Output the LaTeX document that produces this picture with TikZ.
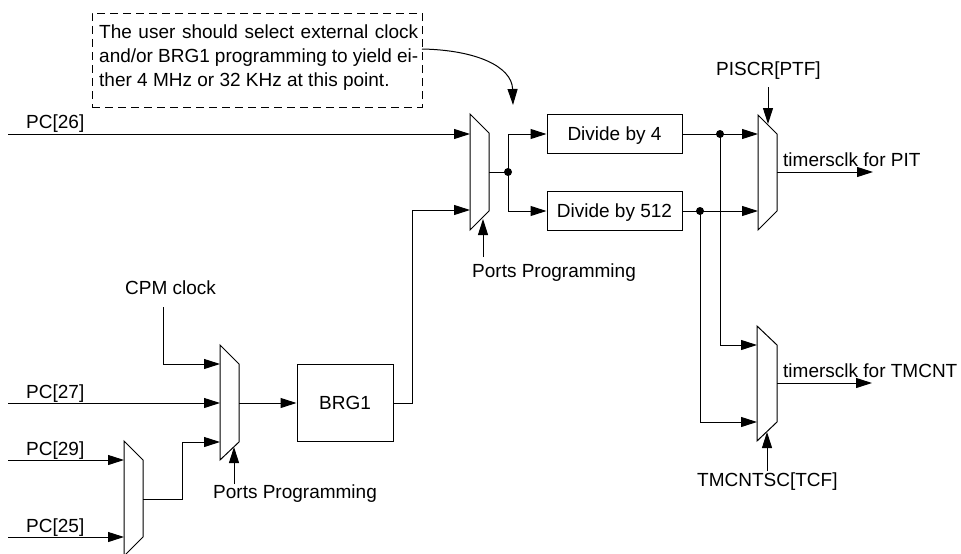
\documentclass[tikz,border=0pt]{standalone}
\usepackage{fontspec}
\setmainfont{Liberation Sans}
\usetikzlibrary{arrows.meta}
\begin{document}
\begin{tikzpicture}[x=1pt,y=-1pt,
  wire/.style={line width=1pt,line join=miter},
  sig/.style={wire,-{Triangle[length=16pt,width=10pt]}},
  muxbody/.style={line width=1pt,fill=white,line join=miter},
  blockbox/.style={draw,line width=1pt,inner sep=0pt,
    font=\fontsize{19}{23}\selectfont,text height=13.6pt,text depth=0pt},
  lbl/.style={anchor=base west,inner sep=0pt,font=\fontsize{19}{23}\selectfont},
  junction/.style={circle,fill=black,inner sep=0pt,minimum size=8pt}]
\useasboundingbox (0,0) rectangle (961,554);

% ---------- annotation ----------
\node[draw,dashed,dash pattern=on 8pt off 5pt,line width=1pt,inner sep=0pt,
      minimum width=330pt,minimum height=94pt] (note) at (257,60) {};
\node[anchor=base west,inner sep=0pt] (notetext) at (99,38.5)
  {\parbox[t]{319pt}{\fontsize{19}{24}\selectfont
   \makebox[319pt][s]{The user should select external clock}\\
   \makebox[319pt][s]{and/or BRG1 programming to yield ei-}\\
   ther 4 MHz or 32 KHz at this point.}};
\coordinate (notefrom) at (422,49);
\coordinate (pointhere) at (513,105);
\draw[sig] (notefrom) .. controls (475,50) and (512,66) .. (pointhere);

% ---------- multiplexers ----------
\draw[muxbody] (470,114) -- (489,133) -- (489,211) -- (470,230) -- cycle; % ports mux
\draw[muxbody] (758,115) -- (777,134) -- (777,211) -- (758,230) -- cycle; % PIT mux
\draw[muxbody] (757,326) -- (777,345) -- (777,422) -- (757,441) -- cycle; % TMCNT mux
\draw[muxbody] (220,345) -- (239,364) -- (239,442) -- (220,460) -- cycle; % BRG1 source mux
\draw[muxbody] (124,441) -- (143,460) -- (143,537) -- (124,556) -- cycle; % PC29/PC25 mux

% multiplexer pins
\coordinate (pa-in1) at (470,134);  \coordinate (pa-in2) at (470,210);
\coordinate (pa-out) at (489,172);  \coordinate (pa-sel) at (483,219);
\coordinate (pit-in1) at (758,134); \coordinate (pit-in2) at (758,211);
\coordinate (pit-out) at (777,172); \coordinate (pit-sel) at (768,124);
\coordinate (tm-in1) at (757,345);  \coordinate (tm-in2) at (757,422);
\coordinate (tm-out) at (777,383);  \coordinate (tm-sel) at (767,432);
\coordinate (bm-in1) at (220,364);  \coordinate (bm-in2) at (220,403);
\coordinate (bm-in3) at (220,442);  \coordinate (bm-out) at (239,403);
\coordinate (bm-sel) at (234,447);
\coordinate (pm-in1) at (124,460);  \coordinate (pm-in2) at (124,537);
\coordinate (pm-out) at (143,499);

% ---------- blocks ----------
\node[blockbox,minimum width=135pt,minimum height=39pt] (div4) at (614.5,134) {Divide by 4};
\node[blockbox,minimum width=135pt,minimum height=39pt] (div512) at (614.5,211) {Divide by 512};
\node[blockbox,minimum width=96pt,minimum height=77pt] (brg) at (345,402.5) {BRG1};

% ---------- input signals ----------
\node[lbl] (pc26) at (26,128) {PC[26]};
\node[lbl] (pc27) at (26,398) {PC[27]};
\node[lbl] (pc29) at (26,455) {PC[29]};
\node[lbl] (pc25) at (26,532) {PC[25]};
\node[lbl] (cpm) at (125,294) {CPM clock};
\coordinate (pc26src) at (8,134);
\coordinate (pc27src) at (8,403);
\coordinate (pc29src) at (8,460);
\coordinate (pc25src) at (8,537);
\coordinate (cpmsrc) at (163,307);

\draw[sig] (pc26src) -- (pa-in1);
\draw[sig] (pc27src) -- (bm-in2);
\draw[sig] (pc29src) -- (pm-in1);
\draw[sig] (pc25src) -- (pm-in2);
\draw[sig] (cpmsrc) |- (bm-in1);
\draw[sig] (pm-out) -- (182,499) |- (bm-in3);
\draw[sig] (bm-out) -- (brg.west |- bm-out);
\draw[sig] (brg.east |- 0,403) -- (412,403) |- (pa-in2);

% ---------- select lines ----------
\node[lbl] (pp1) at (472,277) {Ports Programming};
\node[lbl] (pp2) at (213,498) {Ports Programming};
\node[lbl] (piscr) at (716,75) {PISCR[PTF]};
\node[lbl] (tmcntsc) at (697,486) {TMCNTSC[TCF]};
\coordinate (pp1src) at (483,257);
\coordinate (pp2src) at (234,484);
\coordinate (piscrsrc) at (768,87);
\coordinate (tmsrc) at (767,471);
\draw[sig] (pp1src) -- (pa-sel);
\draw[sig] (pp2src) -- (bm-sel);
\draw[sig] (piscrsrc) -- (pit-sel);
\draw[sig] (tmsrc) -- (tm-sel);

% ---------- prescaler fan-out ----------
\node[junction] (j1) at (508,172) {};
\node[junction] (j2) at (720,134) {};
\node[junction] (j3) at (700,211) {};
\draw[wire] (pa-out) -- (j1.center);
\draw[sig] (j1.center) |- (div4.west);
\draw[sig] (j1.center) |- (div512.west);
\draw[wire] (div4.east) -- (j2.center);
\draw[sig] (j2.center) -- (pit-in1);
\draw[wire] (div512.east) -- (j3.center);
\draw[sig] (j3.center) -- (pit-in2);
\draw[sig] (j2.center) |- (tm-in1);
\draw[sig] (j3.center) |- (tm-in2);

% ---------- outputs ----------
\coordinate (pitclk) at (873,172);
\coordinate (tmclk) at (872,383);
\draw[sig] (pit-out) -- (pitclk);
\draw[sig] (tm-out) -- (tmclk);
\node[lbl] (pitlbl) at (783,166) {timersclk for PIT};
\node[lbl] (tmlbl) at (783,377) {timersclk for TMCNT};
\end{tikzpicture}
\end{document}
